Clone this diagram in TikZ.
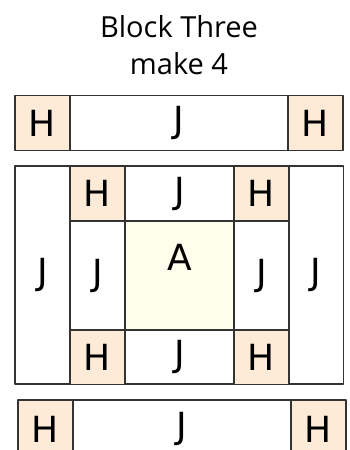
\documentclass[tikz,border=0pt]{standalone}
\usepackage{fontspec}
\newfontfamily\titlefont{Open Sans}
\newfontfamily\cellfont{DejaVu Sans}
\definecolor{edge}{HTML}{333333}
\definecolor{peach}{HTML}{FDEBD8}
\definecolor{cream}{HTML}{FFFDEC}
\begin{document}
\begin{tikzpicture}[x=1pt,y=1pt,line join=round,
  cell/.style={draw=edge,line width=1.4pt,inner sep=0pt,fill=white},
  hbox/.style={cell,fill=peach,minimum width=55pt,minimum height=55pt},
  jwide/.style={cell,minimum width=218pt,minimum height=55pt},
  jtall/.style={cell,minimum width=55pt,minimum height=218pt},
  big/.style={font=\cellfont\fontsize{36}{40}\selectfont},
  top/.style={font=\titlefont\fontsize{29}{34}\selectfont}]
\useasboundingbox (0,0) rectangle (349,450);
\node[top,align=center] (title) at (179,405)
  {Block Three\\[3pt]make 4};
% upper strip
\node[hbox,big] (tl) at (42.5,327) {H};
\node[jwide,big] (tj) at (179,327) {J};
\node[hbox,big] (tr) at (315.5,327) {H};
% centre block
\node[jtall,big] (jl) at (42.5,175) {J};
\node[jtall,big] (jr) at (316,175) {J};
\foreach \x/\y/\n in
  {97.5/256.5/hnw,
   261.5/256.5/hne,
   97.5/93/hsw,
   261.5/93/hse}
{
  \node[hbox,big] (\n) at (\x,\y) {H};
}
\node[cell,big,minimum width=109pt,minimum height=55pt] (jn) at (179.5,256.5) {J};
\node[cell,big,minimum width=109pt,minimum height=54pt] (js) at (179.5,93) {J};
\node[cell,big,minimum width=55pt,minimum height=109pt] (jw) at (97.5,174.5) {J};
\node[cell,big,minimum width=55pt,minimum height=109pt] (je) at (261.5,174.5) {J};
\node[cell,fill=cream,minimum width=109pt,minimum height=109pt,
  label={[big,yshift=18pt]center:A}] (a) at (179.5,174.5) {};
% lower strip
\node[hbox,big,minimum height=58pt] (bl) at (45.5,21) {H};
\node[jwide,big,minimum height=58pt] (bj) at (182,21) {J};
\node[hbox,big,minimum height=58pt] (br) at (318.5,21) {H};
\end{tikzpicture}
\end{document}
